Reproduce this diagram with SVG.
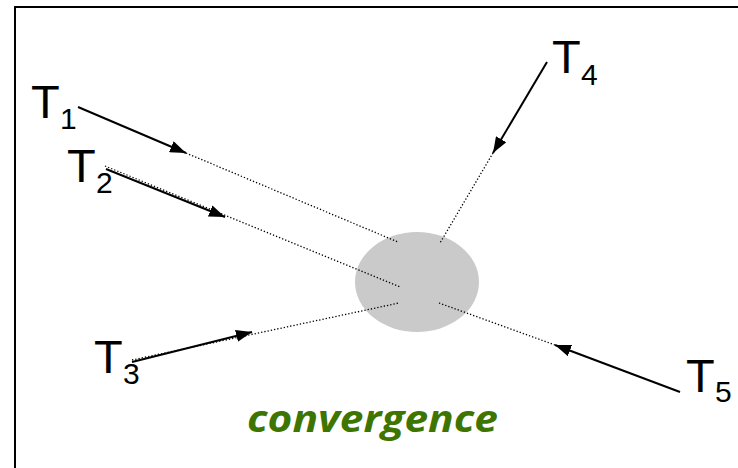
<svg xmlns="http://www.w3.org/2000/svg" width="738" height="468" viewBox="0 0 738 468">
<style>
.lbl{font-family:"Liberation Sans",Arial,sans-serif;fill:#000}
.big{font-size:47px}
.sub{font-size:30px}
.solid{stroke:#000;stroke-width:2;fill:none}
.dot{stroke:#000;stroke-width:1.3;stroke-dasharray:1.3 2;fill:none}
.conv{font-family:"Open Sans","DejaVu Sans",sans-serif;font-weight:bold;font-style:italic;font-size:37px;fill:#3d7500}
</style>
<defs>
<marker id="ah" viewBox="0 0 16 12" refX="16" refY="6" markerWidth="16" markerHeight="12" markerUnits="userSpaceOnUse" orient="auto">
<path d="M0,0 L16,6 L0,12 Z" fill="#000"/>
</marker>
</defs>
<rect width="738" height="468" fill="#fff"/>
<path d="M15,468 V7 H738" stroke="#000" stroke-width="2" fill="none"/>
<g id="convergence-zone">
<ellipse cx="417" cy="282" rx="62" ry="50" fill="#cacaca"/>
</g>
<g id="connectors">
<line class="dot" x1="186" y1="153" x2="398" y2="242"/>
<line class="solid" x1="78" y1="107" x2="186" y2="153" marker-end="url(#ah)"/>
<line class="dot" x1="105" y1="166" x2="400" y2="287"/>
<line class="solid" x1="106" y1="169" x2="225" y2="217" marker-end="url(#ah)"/>
<line class="dot" x1="132" y1="360" x2="399" y2="303"/>
<line class="solid" x1="132" y1="362" x2="252" y2="332" marker-end="url(#ah)"/>
<line class="dot" x1="493" y1="153" x2="440" y2="243"/>
<line class="solid" x1="547" y1="62" x2="493" y2="153" marker-end="url(#ah)"/>
<line class="dot" x1="555" y1="345" x2="439" y2="303"/>
<line class="solid" x1="680" y1="392" x2="555" y2="345" marker-end="url(#ah)"/>
</g>
<g id="T1"><text class="lbl big" x="31" y="118">T</text><text class="lbl sub" x="60" y="129">1</text></g>
<g id="T2"><text class="lbl big" x="67" y="182">T</text><text class="lbl sub" x="96" y="193">2</text></g>
<g id="T3"><text class="lbl big" x="94" y="373">T</text><text class="lbl sub" x="123" y="384">3</text></g>
<g id="T4"><text class="lbl big" x="552" y="73">T</text><text class="lbl sub" x="581" y="85">4</text></g>
<g id="T5"><text class="lbl big" x="686" y="392">T</text><text class="lbl sub" x="715" y="402">5</text></g>
<g id="label"><text class="conv" x="247" y="432" textLength="251" lengthAdjust="spacingAndGlyphs">convergence</text></g>
</svg>
